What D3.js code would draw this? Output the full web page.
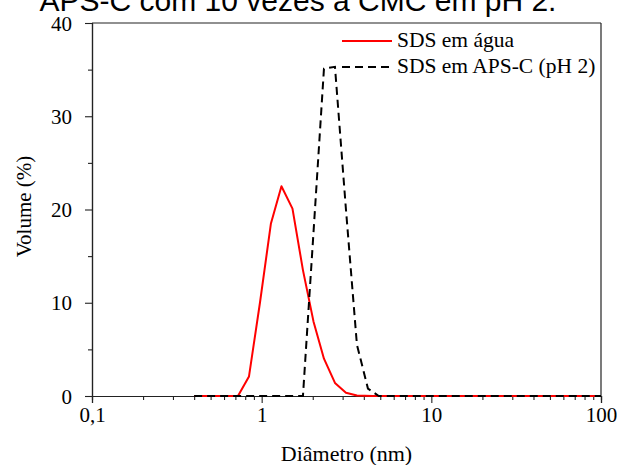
<!DOCTYPE html>
<html>
<head>
<meta charset="utf-8">
<script src="https://cdn.jsdelivr.net/npm/d3@7"></script>
<style>
  html, body { margin: 0; padding: 0; background: #fff; }
  svg { display: block; }
</style>
</head>
<body>
<svg id="chart" width="617" height="465"></svg>
<script>
// ---- data ----
const titleText = "APS-C com 10 vezes a CMC em pH 2.";
const xLabel = "Diâmetro (nm)";
const yLabel = "Volume (%)";
const seriesNames = ["SDS em água", "SDS em APS-C (pH 2)"];

const waterDiam = [0.4, 0.534, 0.622, 0.725, 0.842, 0.977, 1.134, 1.308, 1.519, 1.751, 2.02, 2.329, 2.704, 3.139, 3.643, 4.5, 100];
const waterVol  = [0, 0, 0, 0, 2.1, 10, 18.5, 22.5, 20.1, 13.5, 8, 4, 1.4, 0.35, 0.05, 0, 0];

const apsDiam = [0.4, 1.751, 2.02, 2.329, 2.704, 3.139, 3.643, 4.23, 4.9, 100];
const apsVol  = [0, 0, 17.5, 35.1, 35.3, 20, 5.5, 0.8, 0, 0];

const xMajorTicks = [0.1, 1, 10, 100];
const xTickLabels = ["0,1", "1", "10", "100"];
const yMajorTicks = [0, 10, 20, 30, 40];
const yMinorTicks = [5, 15, 25, 35];

// ---- layout ----
const svg = d3.select("#chart");
const L = 92, R = 601, T = 23, B = 396;
const x = d3.scaleLog().domain([0.1, 100]).range([L, R]);
const y = d3.scaleLinear().domain([0, 40]).range([B, T]);

const serif = "'Liberation Serif', 'Times New Roman', serif";
const sans = "'Liberation Sans', Arial, sans-serif";

// title (partly cropped at top)
svg.append("text")
  .attr("x", 298).attr("y", 11)
  .attr("text-anchor", "middle")
  .attr("font-family", sans).attr("font-size", 30)
  .attr("fill", "#000")
  .text(titleText);

// minor x ticks
const xMinor = [];
[0.1, 1, 10].forEach(d => { for (let k = 2; k <= 9; k++) xMinor.push(d * k); });

const axisColor = "#222";

const gxMinor = svg.append("g").attr("transform", `translate(0,${B})`)
  .call(d3.axisBottom(x).tickValues(xMinor).tickSize(4).tickFormat(""));
const gx = svg.append("g").attr("transform", `translate(0,${B})`)
  .call(d3.axisBottom(x).tickValues(xMajorTicks).tickSize(7)
    .tickFormat((d, i) => xTickLabels[i]).tickPadding(4));

const gyMinor = svg.append("g").attr("transform", `translate(${L},0)`)
  .call(d3.axisLeft(y).tickValues(yMinorTicks).tickSize(4).tickFormat(""));
const gy = svg.append("g").attr("transform", `translate(${L},0)`)
  .call(d3.axisLeft(y).tickValues(yMajorTicks).tickSize(7).tickPadding(13));

[gxMinor, gx, gyMinor, gy].forEach(g => {
  g.select(".domain").attr("stroke", axisColor).attr("stroke-width", 1.2);
  g.selectAll(".tick line").attr("stroke", axisColor).attr("stroke-width", 1.1);
  g.selectAll(".tick text").attr("font-family", serif).attr("font-size", 21).attr("fill", "#000");
});
gy.selectAll(".tick text").attr("dy", "0.34em");

// frame top and right
svg.append("line").attr("x1", L).attr("x2", R).attr("y1", T).attr("y2", T)
  .attr("stroke", axisColor).attr("stroke-width", 1.2);
svg.append("line").attr("x1", R).attr("x2", R).attr("y1", T).attr("y2", B)
  .attr("stroke", axisColor).attr("stroke-width", 1.2);

// axis labels
svg.append("text")
  .attr("x", (L + R) / 2).attr("y", 461)
  .attr("text-anchor", "middle")
  .attr("font-family", serif).attr("font-size", 22)
  .text(xLabel);
svg.append("text")
  .attr("transform", `translate(31,${(T + B) / 2 - 3}) rotate(-90)`)
  .attr("text-anchor", "middle")
  .attr("font-family", serif).attr("font-size", 21)
  .text(yLabel);

// lines
const line = d3.line().x(d => x(d[0])).y(d => y(d[1]));
svg.append("path")
  .datum(waterDiam.map((d, i) => [d, waterVol[i]]))
  .attr("d", line).attr("fill", "none")
  .attr("stroke", "#ff0000").attr("stroke-width", 2)
  .attr("stroke-linejoin", "round");
svg.append("path")
  .datum(apsDiam.map((d, i) => [d, apsVol[i]]))
  .attr("d", line).attr("fill", "none")
  .attr("stroke", "#000").attr("stroke-width", 2)
  .attr("stroke-dasharray", "8,5");

// legend
const legend = [
  { name: seriesNames[0], color: "#ff0000", dash: null, yy: 41 },
  { name: seriesNames[1], color: "#000", dash: "8,5", yy: 67 }
];
legend.forEach(l => {
  svg.append("line").attr("x1", 342).attr("x2", 392).attr("y1", l.yy).attr("y2", l.yy)
    .attr("stroke", l.color).attr("stroke-width", 2)
    .attr("stroke-dasharray", l.dash);
  svg.append("text").attr("x", 397).attr("y", l.yy + 6)
    .attr("font-family", serif).attr("font-size", 21.5)
    .text(l.name);
});
</script>
</body>
</html>
